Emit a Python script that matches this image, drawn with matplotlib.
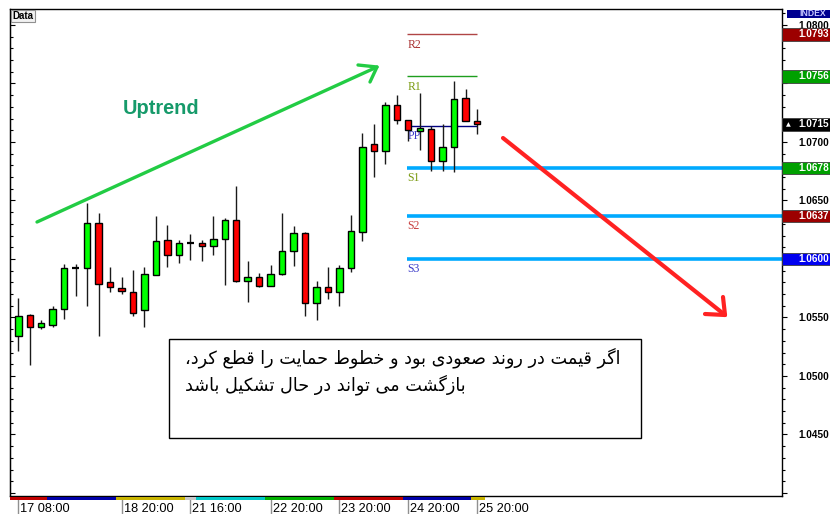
import numpy as np
import matplotlib
matplotlib.use("Agg")
import matplotlib.pyplot as plt
from matplotlib.patches import Rectangle
from matplotlib.lines import Line2D
from matplotlib.ticker import MultipleLocator, FuncFormatter
import matplotlib.transforms as mtransforms

# ---------------- data (4H candles) ----------------
opens  = [1.0534, 1.0552, 1.0542, 1.0544, 1.0557, 1.0592, 1.0592, 1.0631, 1.0580, 1.0575,
          1.0572, 1.0556, 1.0586, 1.0616, 1.0603, 1.0614, 1.0614, 1.0611, 1.0617, 1.0633,
          1.0581, 1.0585, 1.0577, 1.0587, 1.0607, 1.0622, 1.0562, 1.0576, 1.0572, 1.0592,
          1.0623, 1.0698, 1.0692, 1.0732, 1.0719, 1.0709, 1.0711, 1.0684, 1.0696, 1.0738,
          1.0718]
highs  = [1.0567, 1.0553, 1.0548, 1.0560, 1.0596, 1.0596, 1.0648, 1.0639, 1.0593, 1.0585,
          1.0591, 1.0593, 1.0637, 1.0629, 1.0616, 1.0621, 1.0616, 1.0637, 1.0635, 1.0662,
          1.0598, 1.0588, 1.0595, 1.0639, 1.0628, 1.0623, 1.0581, 1.0593, 1.0595, 1.0638,
          1.0708, 1.0715, 1.0734, 1.0740, 1.0719, 1.0742, 1.0714, 1.0715, 1.0752, 1.0745,
          1.0728]
lows   = [1.0521, 1.0509, 1.0540, 1.0542, 1.0549, 1.0568, 1.0560, 1.0534, 1.0572, 1.0570,
          1.0551, 1.0542, 1.0586, 1.0593, 1.0597, 1.0599, 1.0598, 1.0603, 1.0578, 1.0580,
          1.0563, 1.0576, 1.0577, 1.0586, 1.0594, 1.0551, 1.0548, 1.0566, 1.0560, 1.0589,
          1.0615, 1.0670, 1.0681, 1.0715, 1.0701, 1.0693, 1.0675, 1.0675, 1.0674, 1.0718,
          1.0707]
closes = [1.0551, 1.0542, 1.0545, 1.0557, 1.0592, 1.0592, 1.0631, 1.0579, 1.0576, 1.0573,
          1.0554, 1.0587, 1.0615, 1.0603, 1.0614, 1.0614, 1.0611, 1.0617, 1.0633, 1.0581,
          1.0585, 1.0577, 1.0587, 1.0607, 1.0622, 1.0562, 1.0576, 1.0572, 1.0592, 1.0624,
          1.0696, 1.0692, 1.0732, 1.0719, 1.0710, 1.0712, 1.0684, 1.0696, 1.0737, 1.0718,
          1.0715]

time_tick_bars = [0, 9, 15, 22, 28, 34, 40]
time_tick_labels = ["17 08:00", "18 20:00", "21 16:00", "22 20:00", "23 20:00", "24 20:00", "25 20:00"]

day_edges = [-0.72, 2.5, 8.5, 14.5, 15.5, 21.5, 27.5, 33.5, 39.5, 40.7]
day_colors = ["#c00000", "#0000a8", "#c8b400", "#c8c8c8", "#00c8c8", "#00b000", "#c00000", "#0000a8", "#c8b400"]

pivot_names = ["R2", "R1", "PP", "S1", "S2", "S3"]
pivot_values = [1.0792, 1.0756, 1.0714, 1.0678, 1.0637, 1.0600]

price_box_values = [1.0792, 1.0756, 1.0715, 1.0678, 1.0637, 1.0600]
price_box_texts = ["1.0793", "1.0756", "1.0715", "1.0678", "1.0637", "1.0600"]
price_box_colors = ["#9c0000", "#00a000", "#000000", "#00a000", "#9c0000", "#0000f0"]

hidden_price_labels = [1.0750, 1.0600, 1.0400]

note_lines = ["اگر قیمت در روند صعودی بود و خطوط حمایت را قطع کرد،",
              "بازگشت می تواند در حال تشکیل باشد"]

# ---------------- simple Persian shaping (presentation forms) ----------------
FORMS = {
    'ا': ('\uFE8D', '\uFE8E', None, None),
    'ب': ('\uFE8F', '\uFE90', '\uFE91', '\uFE92'),
    'ت': ('\uFE95', '\uFE96', '\uFE97', '\uFE98'),
    'ح': ('\uFEA1', '\uFEA2', '\uFEA3', '\uFEA4'),
    'خ': ('\uFEA5', '\uFEA6', '\uFEA7', '\uFEA8'),
    'د': ('\uFEA9', '\uFEAA', None, None),
    'ر': ('\uFEAD', '\uFEAE', None, None),
    'ز': ('\uFEAF', '\uFEB0', None, None),
    'ش': ('\uFEB5', '\uFEB6', '\uFEB7', '\uFEB8'),
    'ص': ('\uFEB9', '\uFEBA', '\uFEBB', '\uFEBC'),
    'ط': ('\uFEC1', '\uFEC2', '\uFEC3', '\uFEC4'),
    'ع': ('\uFEC9', '\uFECA', '\uFECB', '\uFECC'),
    'ق': ('\uFED5', '\uFED6', '\uFED7', '\uFED8'),
    'ل': ('\uFEDD', '\uFEDE', '\uFEDF', '\uFEE0'),
    'م': ('\uFEE1', '\uFEE2', '\uFEE3', '\uFEE4'),
    'ن': ('\uFEE5', '\uFEE6', '\uFEE7', '\uFEE8'),
    'و': ('\uFEED', '\uFEEE', None, None),
    'ک': ('\uFB8E', '\uFB8F', '\uFB90', '\uFB91'),
    'گ': ('\uFB92', '\uFB93', '\uFB94', '\uFB95'),
    'ی': ('\uFBFC', '\uFBFD', '\uFBFE', '\uFBFF'),
}


def shape_rtl(s):
    out = []
    for i, c in enumerate(s):
        if c not in FORMS:
            out.append(c)
            continue
        prev = s[i - 1] if i > 0 else ''
        nxt = s[i + 1] if i + 1 < len(s) else ''
        jp = prev in FORMS and FORMS[prev][2] is not None
        jn = FORMS[c][2] is not None and nxt in FORMS
        iso, fin, ini, med = FORMS[c]
        if jp and jn:
            out.append(med)
        elif jp:
            out.append(fin)
        elif jn:
            out.append(ini)
        else:
            out.append(iso)
    return ''.join(out)[::-1]


# ---------------- figure ----------------
W, H = 830, 514
fig = plt.figure(figsize=(W / 100, H / 100), dpi=100)
fig.patch.set_facecolor("white")


def P(x, y):
    return (x / W, 1 - y / H)


L, T, R, B = 10, 9, 782, 496
ax = fig.add_axes([L / W, 1 - B / H, (R - L) / W, (B - T) / H])
ax.set_facecolor("white")

px_per_unit = 11700.0
bar_px = 11.47
x0_px = 18.3
ax.set_xlim(-(x0_px - L) / bar_px, (R - x0_px) / bar_px)
ax.set_ylim(1.08 - (B - 25) / px_per_unit, 1.08 + (25 - T) / px_per_unit)

for sp in ax.spines.values():
    sp.set_color("black")
    sp.set_linewidth(1.0)

# candles
xs = np.arange(len(opens))
o = np.array(opens); h = np.array(highs); l = np.array(lows); c = np.array(closes)
ax.vlines(xs, l, h, color="#1a1a1a", linewidth=1.0, zorder=3)
up = c > o
dn = c < o
eq = c == o
ax.bar(xs[up], (c - o)[up], bottom=o[up], width=0.56, color="#00ff00",
       edgecolor="black", linewidth=1.0, zorder=4)
ax.bar(xs[dn], (c - o)[dn], bottom=o[dn], width=0.56, color="#ff0000",
       edgecolor="black", linewidth=1.0, zorder=4)
ax.hlines(o[eq], xs[eq] - 0.3, xs[eq] + 0.3, color="black", linewidth=1.6, zorder=4)

# pivot levels
pivot_colors = ["#b04545", "#1e9e1e", "#000080", "#00aaff", "#00aaff", "#00aaff"]
pivot_label_colors = ["#a83030", "#7a9a10", "#3a3ac8", "#7a9a10", "#c84040", "#3a3ac8"]
start_bar = 33.9
for name, val, lc, tc in zip(pivot_names, pivot_values, pivot_colors, pivot_label_colors):
    if name.startswith("S"):
        ax.hlines(val, start_bar, ax.get_xlim()[1], color=lc, linewidth=2.6, zorder=2)
    else:
        ax.hlines(val, start_bar, 40.0, color=lc, linewidth=1.0, zorder=2)
    ax.annotate(name, (start_bar, val), xytext=(0, -3), textcoords="offset points",
                ha="left", va="top", fontsize=8.5, family="Liberation Serif",
                color=tc, zorder=2)

# axes ticks: right (labels, outward) + left (inward)
def price_fmt(v, pos):
    if any(abs(v - hv) < 1e-7 for hv in hidden_price_labels):
        return ""
    return "%.4f" % v

ax.yaxis.tick_right()
ax.yaxis.set_major_locator(MultipleLocator(0.005))
ax.yaxis.set_minor_locator(MultipleLocator(0.001))
ax.yaxis.set_major_formatter(FuncFormatter(price_fmt))
ax.tick_params(axis="y", which="major", direction="out", length=3.6, width=0.8,
               pad=8.0, labelsize=7.2, colors="black")
ax.tick_params(axis="y", which="minor", direction="out", length=2.2, width=0.8)
for lab in ax.get_yticklabels():
    lab.set_fontweight("bold")
    lab.set_family("Liberation Sans")

sec = ax.secondary_yaxis("left")
sec.yaxis.set_major_locator(MultipleLocator(0.005))
sec.yaxis.set_minor_locator(MultipleLocator(0.001))
sec.tick_params(axis="y", which="major", direction="in", length=3.6, width=0.8, labelleft=False)
sec.tick_params(axis="y", which="minor", direction="in", length=2.2, width=0.8)

# time axis
ax.set_xticks(time_tick_bars, time_tick_labels)
ax.tick_params(axis="x", direction="out", length=13, width=1.0, color="#909090",
               pad=-8.0, labelsize=9.2)
offset = mtransforms.ScaledTranslation(2 / 100, 0, fig.dpi_scale_trans)
for lab in ax.get_xticklabels():
    lab.set_horizontalalignment("left")
    lab.set_family("Liberation Sans")
    lab.set_transform(lab.get_transform() + offset)

# day separator band under the chart
band_tr = mtransforms.blended_transform_factory(ax.transData, ax.transAxes)
for x_a, x_b, col in zip(day_edges[:-1], day_edges[1:], day_colors):
    ax.add_patch(Rectangle((x_a, -4 / (B - T)), x_b - x_a, 3 / (B - T), transform=band_tr,
                           facecolor=col, edgecolor="none", clip_on=False, zorder=5))

# right-side price boxes
box_tr = mtransforms.blended_transform_factory(ax.transAxes, ax.transData)
half = 6.2 / px_per_unit
for val, txt, col in zip(price_box_values, price_box_texts, price_box_colors):
    ax.add_patch(Rectangle((1.0, val - half), 50 / (R - L), 2 * half, transform=box_tr,
                           facecolor=col, edgecolor="#404040", linewidth=0.6,
                           clip_on=False, zorder=10))
    ax.text(1.0 + 16 / (R - L), val, txt, transform=box_tr, ha="left", va="center",
            fontsize=7.2, fontweight="bold", family="Liberation Sans",
            color="white", clip_on=False, zorder=11)
ax.text(1.0 + 4 / (R - L), price_box_values[2], "\u25B2", transform=box_tr, ha="left",
        va="center", fontsize=4.5, color="white", clip_on=False, zorder=11)

# INDEX header box
fig.patches.append(Rectangle(P(787, 17.5), 45 / W, 7.5 / H, transform=fig.transFigure,
                             facecolor="#000090", edgecolor="none"))
fig.text(*P(799, 13.6), "INDEX", ha="left", va="center", fontsize=6.2, fontweight="bold",
         color="#c8c8ff", family="Liberation Sans")

# "Data" label
fig.text(*P(12.5, 16), "Data", ha="left", va="center", fontsize=7, fontweight="bold",
         family="Liberation Sans",
         bbox=dict(boxstyle="square,pad=0.15", facecolor="#f2f2f2", edgecolor="#909090",
                   linewidth=0.8))

# arrows
def fig_line(pts, color, lw):
    xs_ = [p[0] / W for p in pts]
    ys_ = [1 - p[1] / H for p in pts]
    fig.add_artist(Line2D(xs_, ys_, transform=fig.transFigure, color=color, linewidth=lw,
                          solid_capstyle="round", solid_joinstyle="round"))

fig_line([(37, 222), (377, 67)], "#22cc44", 2.4)
fig_line([(358, 65), (377, 67), (370, 82)], "#22cc44", 2.4)
fig_line([(503, 138), (725, 315)], "#ff2222", 3.0)
fig_line([(705, 314), (725, 315), (723, 297)], "#ff2222", 3.0)

fig.text(*P(123, 108), "Uptrend", ha="left", va="center", fontsize=14.4, fontweight="bold",
         color="#169a6a", family="Liberation Sans")

# note box
fig.patches.append(Rectangle(P(169, 438), (641 - 169) / W, (438 - 339) / H,
                             transform=fig.transFigure, facecolor="white",
                             edgecolor="black", linewidth=1.0))
fig.text(*P(185, 358), shape_rtl(note_lines[0]), ha="left", va="center", fontsize=12.7,
         family=["DejaVu Sans"], color="black")
fig.text(*P(185, 385), shape_rtl(note_lines[1]), ha="left", va="center", fontsize=12.7,
         family=["DejaVu Sans"], color="black")

fig.savefig("out.png", dpi=100, facecolor="white")
